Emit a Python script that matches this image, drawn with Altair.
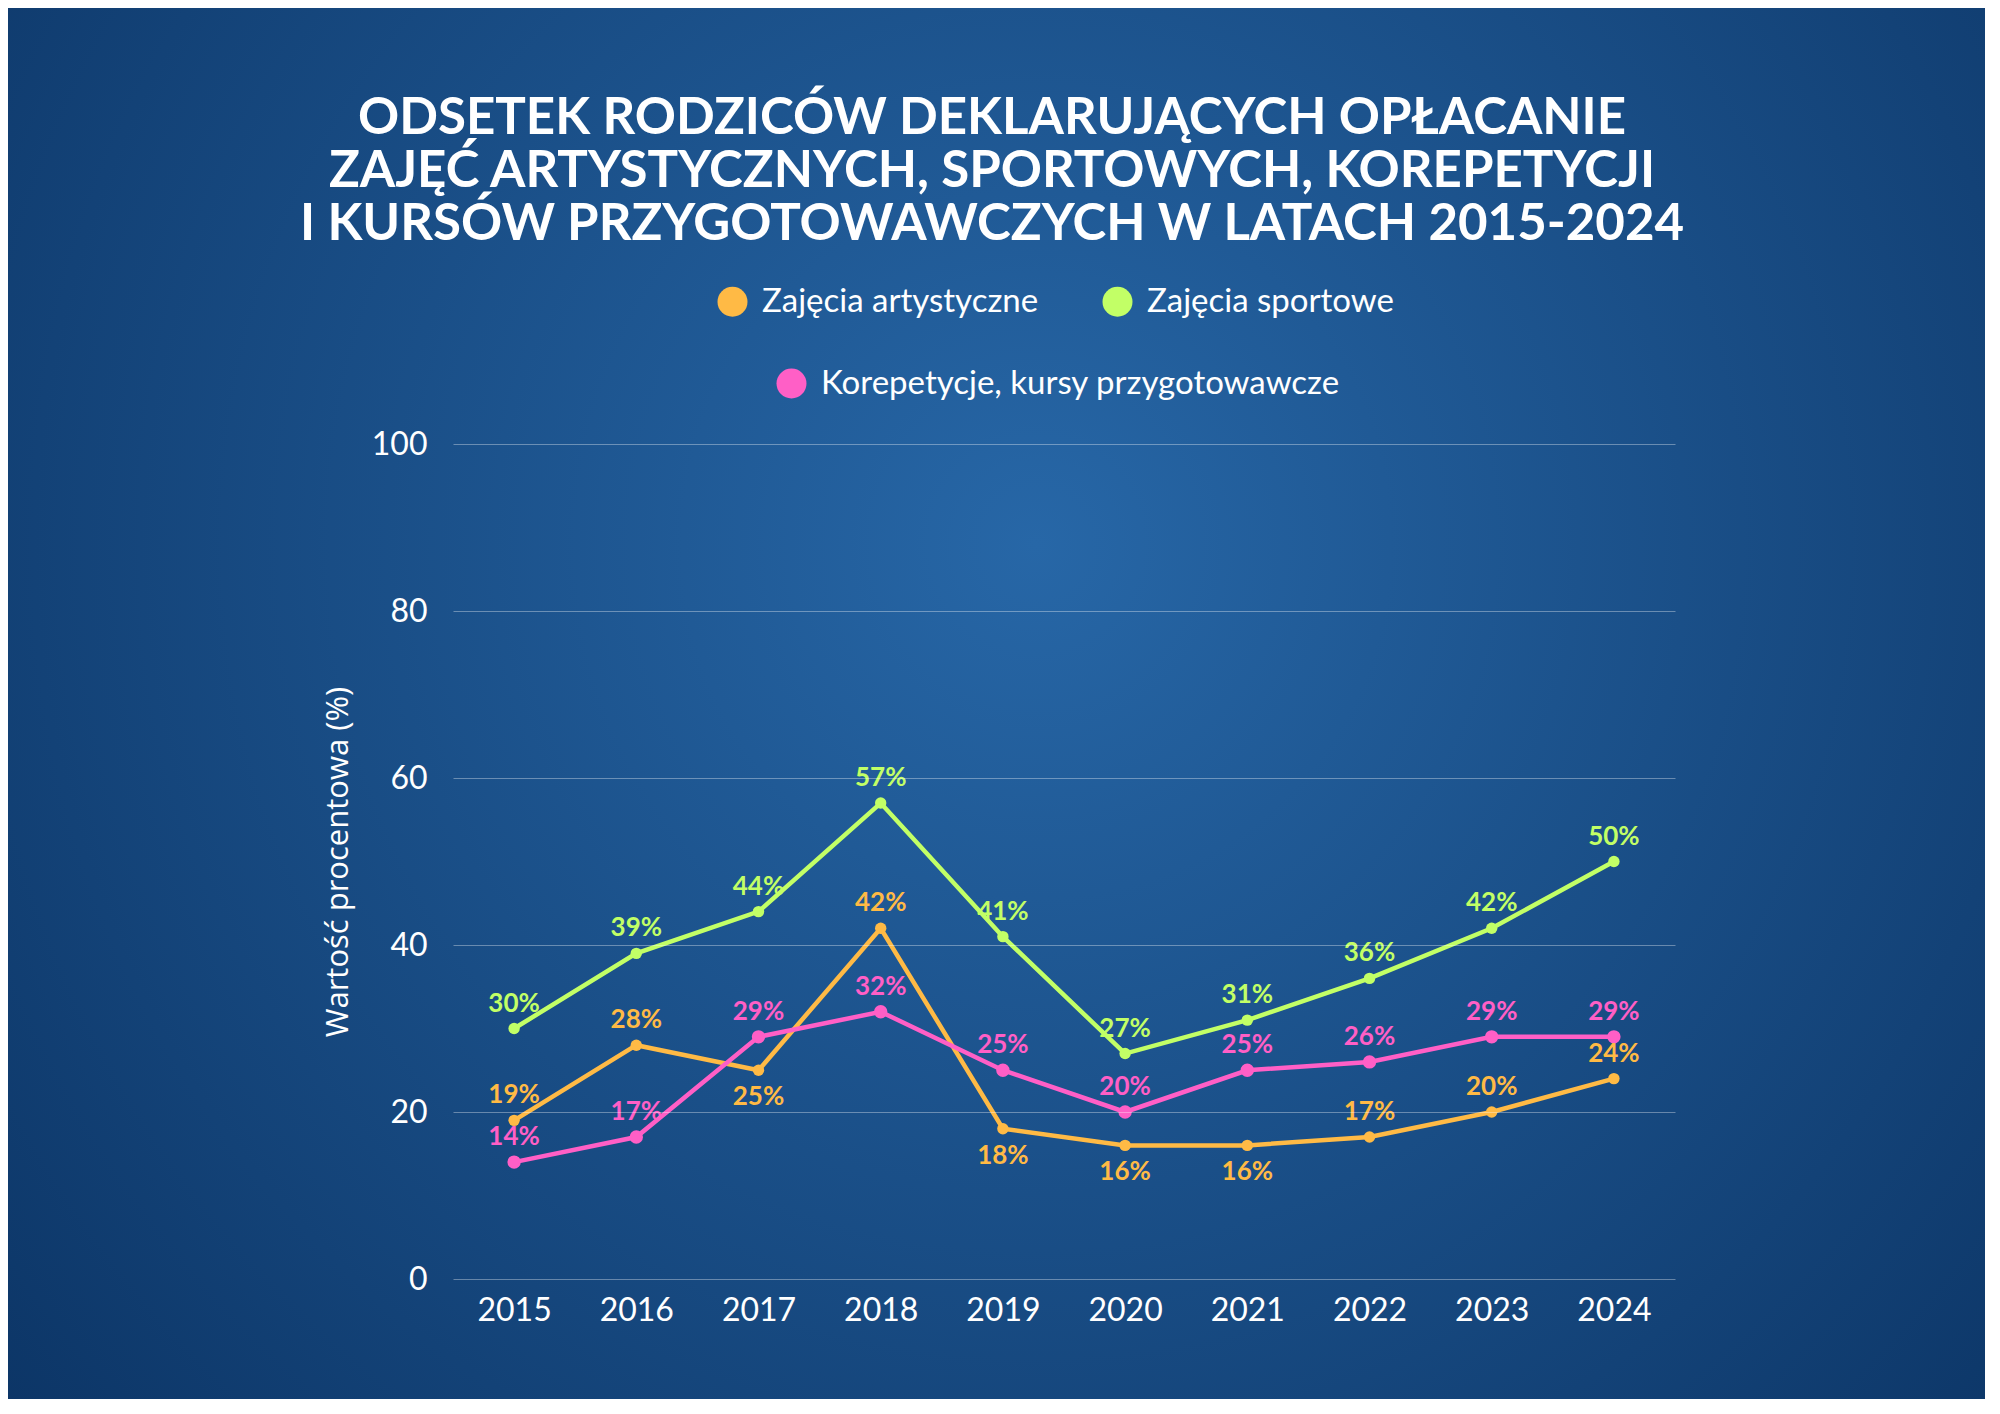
import altair as alt
import pandas as pd

years = [2015, 2016, 2017, 2018, 2019, 2020, 2021, 2022, 2023, 2024]
series_names = ["Zajęcia artystyczne", "Zajęcia sportowe", "Korepetycje, kursy przygotowawcze"]
artystyczne = [19, 28, 25, 42, 18, 16, 16, 17, 20, 24]
sportowe = [30, 39, 44, 57, 41, 27, 31, 36, 42, 50]
korepetycje = [14, 17, 29, 32, 25, 20, 25, 26, 29, 29]
colors = ["#FFBA45", "#C2FF66", "#FF5FC6"]
y_ticks = [0, 20, 40, 60, 80, 100]
title_lines = [
    "ODSETEK RODZICÓW DEKLARUJĄCYCH OPŁACANIE",
    "ZAJĘĆ ARTYSTYCZNYCH, SPORTOWYCH, KOREPETYCJI",
    "I KURSÓW PRZYGOTOWAWCZYCH W LATACH 2015-2024",
]
y_title = "Wartość procentowa (%)"
# labels drawn below their point (style choice)
labels_below = {("Zajęcia artystyczne", 2017), ("Zajęcia artystyczne", 2019),
                ("Zajęcia artystyczne", 2020), ("Zajęcia artystyczne", 2021)}

rows = []
for name, vals in zip(series_names, [artystyczne, sportowe, korepetycje]):
    for y, v in zip(years, vals):
        rows.append({"series": name, "year": str(y), "value": v,
                     "below": (name, y) in labels_below})
df = pd.DataFrame(rows)

W, H = 1222, 835
PL, PT, PR, PB = 445, 436, 310, 120

x_enc = alt.X("year:N", title=None,
              scale=alt.Scale(paddingInner=1, paddingOuter=0.5),
              axis=alt.Axis(labelAngle=0, labelFontSize=32, labelFont="Lato",
                            labelColor="white", labelPadding=16, ticks=False,
                            domain=False, grid=False, zindex=1))
y_enc = alt.Y("value:Q", title=y_title,
              scale=alt.Scale(domain=[0, 100]),
              axis=alt.Axis(values=y_ticks, labelFontSize=32, labelFont="Lato",
                            labelColor="white", labelPadding=26, ticks=False,
                            domain=False, grid=True, gridColor="white",
                            gridOpacity=0.35, gridWidth=1, zindex=1,
                            titleFont="Open Sans", titleFontSize=31,
                            titleFontWeight="normal", titleColor="white",
                            titleX=-115, titleY=H / 2, titleAngle=270,
                            titleAlign="center", titleBaseline="middle"))

color_scale = alt.Scale(domain=series_names, range=colors)

bg = alt.Chart(pd.DataFrame({"a": [0]})).mark_rect(
    clip=False,
    fill={"gradient": "radial",
          "x1": 0.52, "y1": 0.42, "r1": 0,
          "x2": 0.52, "y2": 0.42, "r2": 0.68,
          "stops": [{"offset": 0, "color": "#2767a7"},
                    {"offset": 1, "color": "#0c3566"}]},
).encode(x=alt.value(-PL - 8), x2=alt.value(W + PR + 8),
         y=alt.value(-PT - 8), y2=alt.value(H + PB + 8))

base = alt.Chart(df).encode(x=x_enc, y=y_enc)

lines = base.mark_line(strokeWidth=4.5).encode(
    color=alt.Color("series:N", scale=color_scale, legend=None),
    detail="series:N")

leg_common = dict(title=None, orient="none", direction="horizontal", symbolType="circle",
                  symbolSize=900, symbolStrokeWidth=0, labelFontSize=33, labelFont="Lato",
                  labelColor="white", labelOffset=13, labelLimit=800, zindex=1)

pts_ab = base.transform_filter(
    alt.FieldOneOfPredicate(field="series", oneOf=series_names[:2])
).mark_point(filled=True, size=130, opacity=1).encode(
    fill=alt.Fill("series:N", scale=alt.Scale(domain=series_names[:2], range=colors[:2]),
                  legend=alt.Legend(legendX=263, legendY=-159, columnPadding=62,
                                    **leg_common)))

pts_c = base.transform_filter(
    alt.FieldEqualPredicate(field="series", equal=series_names[2])
).mark_point(filled=True, size=130, opacity=1, fill=colors[2]).encode(
    stroke=alt.Stroke("series:N", scale=alt.Scale(domain=series_names[2:], range=colors[2:]),
                      legend=alt.Legend(legendX=322, legendY=-77, symbolFillColor=colors[2],
                                        **leg_common)))

text_common = dict(font="Lato", fontSize=26, fontWeight="bold", align="center",
                   baseline="middle")
labels_above = base.transform_filter("!datum.below").transform_calculate(
    label="datum.value + '%'").mark_text(dy=-25, **text_common).encode(
    text="label:N",
    color=alt.Color("series:N", scale=color_scale, legend=None))
labels_under = base.transform_filter("datum.below").transform_calculate(
    label="datum.value + '%'").mark_text(dy=27, **text_common).encode(
    text="label:N",
    color=alt.Color("series:N", scale=color_scale, legend=None))

chart = alt.layer(bg, lines, pts_ab, pts_c, labels_above, labels_under).properties(
    width=W, height=H,
    autosize=alt.AutoSizeParams(type="none"),
    padding={"left": PL, "top": PT, "right": PR, "bottom": PB},
    background="#0f3d72",
    title=alt.TitleParams(text=title_lines, font="Lato", fontSize=51, fontWeight="bold",
                          color="white", anchor="middle", frame="group", lineHeight=53,
                          dx=-72, offset=-251, zindex=1),
).configure_view(stroke=None)

chart.save("out.html", embed_options={"renderer": "svg", "actions": False})
